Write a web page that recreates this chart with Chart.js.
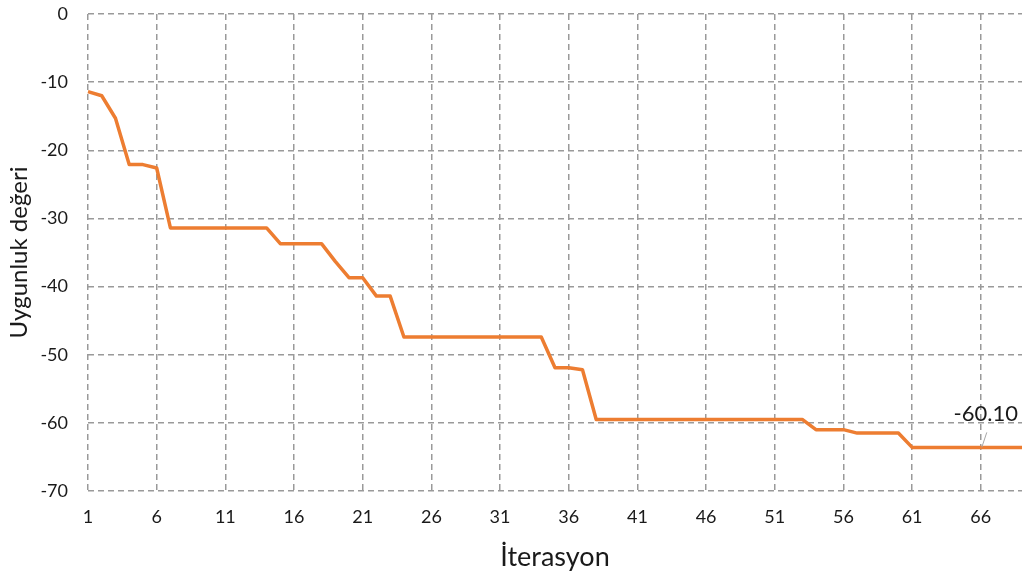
<!DOCTYPE html>
<html>
<head>
<meta charset="utf-8">
<script src="https://cdn.jsdelivr.net/npm/chart.js@4/dist/chart.umd.min.js"></script>
<style>
  html, body { margin: 0; padding: 0; background: #ffffff; }
  #wrap { width: 1025px; height: 573px; position: relative; }
</style>
</head>
<body>
<div id="wrap"><canvas id="c" width="1025" height="573"></canvas></div>
<script>
// Iteration numbers (category axis)
const iterations = [
  1, 2, 3, 4, 5, 6, 7, 8, 9, 10, 11, 12, 13, 14, 15, 16, 17, 18, 19, 20,
  21, 22, 23, 24, 25, 26, 27, 28, 29, 30, 31, 32, 33, 34, 35, 36, 37, 38, 39, 40,
  41, 42, 43, 44, 45, 46, 47, 48, 49, 50, 51, 52, 53, 54, 55, 56, 57, 58, 59, 60,
  61, 62, 63, 64, 65, 66, 67, 68, 69
];

// Best fitness value per iteration
const fitness = [
  -11.4, -12.0, -15.3, -22.1, -22.1, -22.6, -31.4, -31.4, -31.4, -31.4,
  -31.4, -31.4, -31.4, -31.4, -33.7, -33.7, -33.7, -33.7, -36.3, -38.7,
  -38.7, -41.4, -41.4, -47.4, -47.4, -47.4, -47.4, -47.4, -47.4, -47.4,
  -47.4, -47.4, -47.4, -47.4, -51.9, -51.9, -52.2, -59.5, -59.5, -59.5,
  -59.5, -59.5, -59.5, -59.5, -59.5, -59.5, -59.5, -59.5, -59.5, -59.5,
  -59.5, -59.5, -59.5, -61.0, -61.0, -61.0, -61.5, -61.5, -61.5, -61.5,
  -63.6, -63.6, -63.6, -63.6, -63.6, -63.6, -63.6, -63.6, -63.6
];

// Y axis ticks
const yTicks = [0, -10, -20, -30, -40, -50, -60, -70];

// Axis titles
const xTitle = "İterasyon";
const yTitle = "Uygunluk değeri";

// Callout text attached to iteration 66
const calloutIteration = 66;
const calloutText = "-60.10";

const FONT = "Lato, 'Open Sans', sans-serif";
const GRID = "#9a9a9a";
const TEXT = "#1a1a1a";

// Axis titles and the callout label
const annotatePlugin = {
  id: "annotate",
  afterDatasetsDraw(chart) {
    const { ctx, scales, chartArea } = chart;
    const idx = iterations.indexOf(calloutIteration);
    const px = scales.x.getPixelForValue(idx);
    const py = scales.y.getPixelForValue(fitness[idx]);
    ctx.save();
    // leader line
    ctx.strokeStyle = "#a6a6a6";
    ctx.lineWidth = 1;
    ctx.beginPath();
    ctx.moveTo(px + 1, py);
    ctx.lineTo(px + 6, py - 15);
    ctx.stroke();
    // callout label
    ctx.fillStyle = TEXT;
    ctx.font = "22px " + FONT;
    ctx.textAlign = "center";
    ctx.textBaseline = "middle";
    ctx.fillText(calloutText, px + 5, py - 33);

    // x axis title
    ctx.font = "27px " + FONT;
    ctx.textAlign = "center";
    ctx.textBaseline = "alphabetic";
    ctx.fillText(xTitle, 555, 566);

    // y axis title, centred on the plot height
    ctx.translate(27, (chartArea.top + chartArea.bottom) / 2);
    ctx.rotate(-Math.PI / 2);
    ctx.font = "24px " + FONT;
    ctx.fillText(yTitle, 0, 0);
    ctx.restore();
  }
};

new Chart(document.getElementById("c"), {
  type: "line",
  data: {
    labels: iterations,
    datasets: [{
      data: fitness,
      borderColor: "#ED7D31",
      borderWidth: 3.5,
      pointRadius: 0,
      tension: 0,
      fill: false,
      borderJoinStyle: "round"
    }]
  },
  options: {
    responsive: false,
    animation: false,
    devicePixelRatio: 1,
    layout: { autoPadding: false, padding: { top: 14, right: 3, left: 0, bottom: 0 } },
    plugins: { legend: { display: false }, tooltip: { enabled: false } },
    scales: {
      x: {
        type: "category",
        offset: false,
        grid: {
          color: GRID,
          lineWidth: 1.5,
          drawTicks: false
        },
        border: { display: false, dash: [6, 4] },
        ticks: {
          autoSkip: false,
          maxRotation: 0,
          padding: 15,
          color: TEXT,
          font: { family: FONT, size: 18 },
          callback: function (value, index) {
            return index % 5 === 0 ? String(iterations[index]) : null;
          }
        },
        afterFit(scale) { scale.height = 82; }
      },
      y: {
        min: -70,
        max: 0,
        grid: {
          color: GRID,
          lineWidth: 1.5,
          drawTicks: true,
          tickLength: 17,
          tickColor: "rgba(0,0,0,0)"
        },
        border: { display: false, dash: [6, 4] },
        afterBuildTicks(scale) {
          scale.ticks = yTicks.map(v => ({ value: v }));
        },
        ticks: {
          padding: 3,
          color: TEXT,
          font: { family: FONT, size: 18 }
        },
        afterFit(scale) { scale.width = 88; }
      }
    }
  },
  plugins: [annotatePlugin]
});
</script>
</body>
</html>
